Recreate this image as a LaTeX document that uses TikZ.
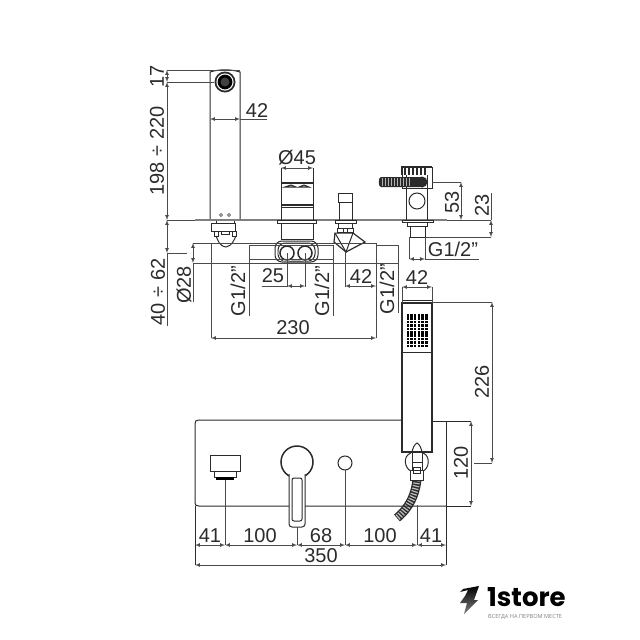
\documentclass[tikz,border=0pt]{standalone}
\usepackage{fontspec}
\setmainfont{Liberation Sans}
\newfontfamily\logofont{Poppins}
\newfontfamily\sloganfont{Open Sans}
\usepackage{xcolor}
\definecolor{inkgray}{HTML}{2B2B2B}
\definecolor{dimgray}{HTML}{4A4A4A}
\tikzset{
  part/.style = {draw = inkgray, line width = 1pt},
  heavy/.style = {draw = inkgray, line width = 1.5pt},
  extline/.style = {draw = dimgray, line width = 0.7pt},
  dimline/.style = {draw = dimgray, line width = 0.7pt, latex-latex},
  label/.style = {inkgray, inner sep = 0, font = \fontsize{20}{22}\selectfont},
  hosebase/.style = {draw = inkgray, line width = 9pt},
  hoserib/.style = {draw = white!75!black, line width = 6.5pt, dash pattern = on 1.2pt off 1.6pt}
}
\begin{document}
\begin{tikzpicture} [x = 1pt, y = -1pt]
  \useasboundingbox (0,0) rectangle (640,640);

  % spout
  \draw [part] (210,219) -- (210,72) .. controls (220,69) and (230,69) .. (240,72) -- (240,219);
  \fill [inkgray] (225,82) circle (10.5);
  \fill [white] (225,82) circle (8.6);
  \fill [black] (225,82) circle (7.4);
  \fill [white!25!black] (225,82) circle (4.5);
  \draw [part, line width = 0.6pt] (221,215) circle (1.5) (229,215) circle (1.5);
  \draw [part] (216,220) rectangle (234,223) (211,223) rectangle (235,231);
  \draw [part] (214,231) rectangle (218,236) (232,231) rectangle (236,236) (221,231) rectangle (229,234);
  \draw [part] (216,236) .. controls (218,240) and (219,246) .. (226,247) .. controls (232,246) and (234,240) .. (236,236);

  % plate
  \draw [draw = gray, line width = 1.8pt] (195,220) -- (447,220);
  \draw [extline] (167,220) -- (195,220) (447,220) -- (491,220);

  % valve
  \draw [part] (281,183) -- (281,168) (313,183) -- (313,168);
  \draw [heavy] (281,183) -- (313,183) (281,205) -- (313,205);
  \draw [part] (281,183) -- (281,220) (313,183) -- (313,220) (281,207) -- (313,207);
  \draw [part, fill = gray!60] (285,187) -- (291,185) -- (296,187) -- cycle (299,187) -- (304,185) -- (309,187) -- cycle;
  \draw [part] (277,220) rectangle (316,223);
  \draw [part] (281,223) rectangle (313,239);
  \draw [part] (283,239) -- (311,239);
  \draw [part, rounded corners = 7pt] (275,241) rectangle (318,262);
  \draw [part, rounded corners = 7pt] (278,243) rectangle (315,261);
  \fill [white] (287,253) circle (8.5) (305,253) circle (8.5);
  \draw [heavy] (287,253) circle (7) (305,253) circle (7);

  % diverter
  \draw [part] (338,193) rectangle (352,202) (339,202) rectangle (352,220);
  \draw [part] (335,220) rectangle (356,223) (338,223) rectangle (352,228) (337,228) rectangle (353,232);
  \draw [part, line width = 1.2pt] (335,233) -- (334,242) -- (346,252) -- (365,242) -- (353,233);
  \draw [part] (335,233) -- (346,252) -- (353,233) -- cycle;
  \draw [part] (343,228) -- (343,232) (347,228) -- (347,232);

  % bath spout
  \draw [part] (402,167) rectangle (432,188);
  \draw [heavy] (402,175) -- (402,167) -- (432,167);
  \foreach \x in {405,409,...,427}
    \draw [heavy, line width = 1.8pt] (\x,168) -- (\x,175);
  \draw [part] (427,175) -- (427,220) (406,175) -- (406,220) (406,188) -- (427,188);
  \draw [part] (417,201) circle (8);
  \draw [part] (402,220) rectangle (433,222) (407,222) rectangle (427,226) (410,226) rectangle (425,237);
  \fill [inkgray] (381,177) .. controls (378,177) and (378,187) .. (381,187) -- (420,187) -- (420,177) -- cycle;
  \fill [inkgray] (422,182) circle (5.5);
  \foreach \x in {382,385,...,409}
    \draw [draw = white!70!black, line width = 0.9pt] (\x,178) -- (\x,186);
  \draw [extline] (409,237) -- (409,259) (425,237) -- (425,259);
  \draw [dimline] (409,259) -- (425,259);
  \draw [extline] (425,259) -- (479,259) (425,237) -- (491,237);

  % hand shower
  \draw [heavy] (402,303) rectangle (432,452);
  \draw [part] (402,300) -- (432,300) (402,352) -- (432,352);
  \foreach \i in {0,...,5}
    \foreach \j in {0,...,9}
      \fill [black] (406.5+\i*3.7,314+\j*3.4) rectangle ++(2.5,2.5);
  \draw [part] (412,452) .. controls (413,447) and (415,444) .. (417,443) .. controls (419,444) and (421,447) .. (422,452);
  \draw [part] (411,453) .. controls (402,456) and (405,469) .. (411,471) (423,453) .. controls (431,456) and (429,469) .. (423,471);
  \draw [part] (412,452) -- (412,470) (422,452) -- (422,470) (412,462) -- (422,462);
  \draw [hosebase] (417,480) .. controls (415,495) and (410,507) .. (397,518);
  \draw [hoserib] (417,480) .. controls (415,495) and (410,507) .. (397,518);
  \draw [part, fill = white] (410,470) rectangle (423,480) (413,467) rectangle (420,473);

  % wall plate
  \draw [part] (446,506) -- (199,506) .. controls (196,506) and (195,505) .. (195,503)
    -- (195,424) .. controls (195,421) and (196,420) .. (199,420) -- (402,420);
  \draw [part] (432,421) -- (471,421);
  \draw [part] (446,421) -- (446,565) (446,506) -- (471,506);
  \draw [part] (195,506) -- (195,565);
  \draw [part] (210,455) rectangle (240,471) (214,471) rectangle (236,477);
  \fill [black] (216,477) rectangle (234,479.5);
  \draw [heavy] (297,462) circle (16);
  \draw [part, fill = white, rounded corners = 3pt] (289,474) -- (289,527) -- (305,527) -- (305,474);
  \draw [part, rounded corners = 2pt] (292,478) rectangle (302,521);
  \draw [part] (345,463) circle (7);

  % dimensions
  \draw [extline] (167,70) -- (240,70) (167,82) -- (214,82);
  \draw [dimline] (167,70) -- (167,82);
  \draw [dimline] (167,82) -- (167,220);
  \draw [dimline] (167,220) -- (167,253);
  \draw [extline] (167,253) -- (167,326) (167,253) -- (187,253);
  \draw [dimline] (210,119) -- (240,119);
  \draw [extline] (240,119) -- (267,119);
  \node [label] (lblSeventeen) at (157,76) [rotate = 90] {17};
  \node [label] (lblSpoutHeight) at (157,151) [rotate = 90] {198 ÷ 220};
  \node [label] (lblSpoutWidth) at (257,111) {42};

  \node [label] (lblValveDia) at (297,158) {Ø45};
  \draw [dimline] (281,168) -- (313,168);

  \draw [extline] (193,243) -- (376,243) (193,263) -- (399,263);
  \draw [dimline] (193,243) -- (193,263);
  \draw [extline] (193,263) -- (193,302);
  \node [label] (lblBodyDia) at (184,285) [rotate = 90] {Ø28};
  \node [label] (lblDeckHeight) at (158,292) [rotate = 90] {40 ÷ 62};
  \draw [extline] (211,243) -- (211,338) (376,243) -- (376,338);
  \draw [dimline] (211,338) -- (376,338);
  \node [label] (lblBodyLength) at (293,328) {230};

  \draw [extline] (249,245) -- (333,245) (249,259) -- (333,259);
  \draw [extline] (249,245) -- (249,316) (333,245) -- (333,316);
  \node [label] (lblPortLeft) at (238,291) [rotate = 90] {G1/2"};
  \node [label] (lblPortMid) at (322,291) [rotate = 90] {G1/2"};
  \draw [extline] (287,253) -- (287,287) (305,253) -- (305,287) (262,286) -- (287,286);
  \draw [dimline] (287,286) -- (305,286);
  \node [label] (lblPortPitch) at (273,276) {25};
  \draw [extline] (345,252) -- (345,287);
  \draw [dimline] (345,286) -- (376,286);
  \node [label] (lblDiverter) at (361,277) {42};
  \draw [extline] (377,245) -- (398,245);
  \draw [extline] (398,245) -- (398,313);
  \node [label] (lblPortRight) at (387,289) [rotate = 90] {G1/2"};

  \draw [extline] (432,182) -- (461,182);
  \draw [dimline] (461,182) -- (461,220);
  \node [label] (lblSpoutHigh) at (452,202) [rotate = 90] {53};
  \draw [extline] (491,193) -- (491,220);
  \draw [dimline] (491,220) -- (491,237);
  \node [label] (lblSpoutTail) at (482,205) [rotate = 90] {23};
  \node [label] (lblSpoutThread) at (453,249) {G1/2"};

  \draw [extline] (402,287) -- (402,303) (432,287) -- (432,303);
  \draw [dimline] (402,287) -- (432,287);
  \node [label] (lblShowerWidth) at (417,278) {42};
  \draw [extline] (432,302) -- (492,302) (474,463) -- (492,463);
  \draw [dimline] (492,302) -- (492,463);
  \node [label] (lblShowerLength) at (482,382) [rotate = 90] {226};
  \draw [dimline] (471,421) -- (471,506);
  \node [label] (lblPlateHeight) at (461,463) [rotate = 90] {120};

  \draw [extline] (225,480) -- (225,545) (297,527) -- (297,545) (345,470) -- (345,545) (417,505) -- (417,545);
  \draw [dimline] (195,545) -- (225,545);
  \draw [dimline] (225,545) -- (297,545);
  \draw [dimline] (297,545) -- (345,545);
  \draw [dimline] (345,545) -- (417,545);
  \draw [dimline] (417,545) -- (446,545);
  \draw [dimline] (195,565) -- (446,565);
  \node [label] (lblGapA) at (210,536) {41};
  \node [label] (lblGapB) at (260,536) {100};
  \node [label] (lblGapC) at (321,536) {68};
  \node [label] (lblGapD) at (380,536) {100};
  \node [label] (lblGapE) at (431,536) {41};
  \node [label] (lblPlateLength) at (321,556) {350};

  % logo
  \shade [top color = black, bottom color = gray] (479,586) -- (463,589) -- (460,592) -- (468,590)
    -- (465,596) -- (460,603) -- (467,603) -- (464,614) -- (478,600) -- (474,600) -- cycle;
  \node [inner sep = 0, anchor = west, black, font = \logofont\bfseries\fontsize{26}{26}\selectfont] (logoName) at (487,597) {1store};
  \node [inner sep = 0, anchor = west, gray, font = \sloganfont\fontsize{5.6}{6}\selectfont] (logoSlogan) at (488,617) {ВСЕГДА НА ПЕРВОМ МЕСТЕ};
\end{tikzpicture}
\end{document}
